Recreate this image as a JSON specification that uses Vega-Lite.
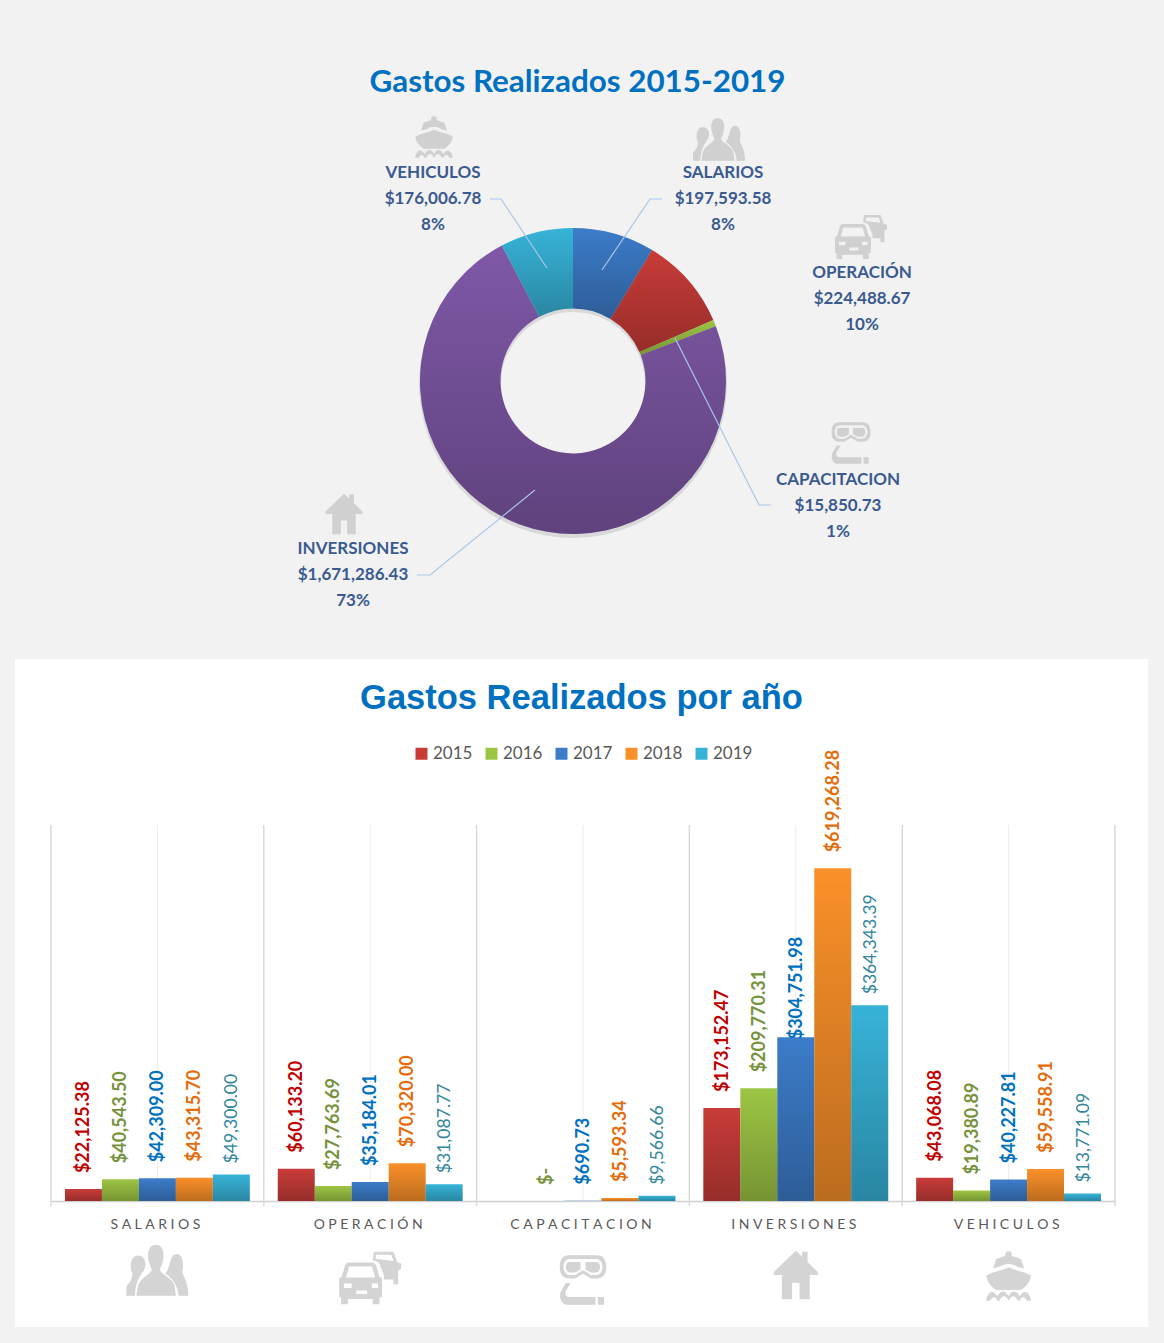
{"$schema":"https://vega.github.io/schema/vega-lite/v6.json","background":"#f2f2f2","padding":{"left":15,"top":0,"right":16,"bottom":16},"spacing":0,"config":{"view":{"stroke":null},"concat":{"spacing":0}},
"resolve":{"scale":{"color":"independent","shape":"independent","fill":"independent"},"legend":{"color":"independent"}},
"datasets":{
"gastos":[
{"categoria":"SALARIOS","orden":1,"valor":197593.58,"etiqueta":"SALARIOS\n$197,593.58\n8%"},
{"categoria":"OPERACIÓN","orden":2,"valor":224488.67,"etiqueta":"OPERACIÓN\n$224,488.67\n10%"},
{"categoria":"CAPACITACION","orden":3,"valor":15850.73,"etiqueta":"CAPACITACION\n$15,850.73\n1%"},
{"categoria":"INVERSIONES","orden":4,"valor":1671286.43,"etiqueta":"INVERSIONES\n$1,671,286.43\n73%"},
{"categoria":"VEHICULOS","orden":5,"valor":176006.78,"etiqueta":"VEHICULOS\n$176,006.78\n8%"}],
"lineas":[
{"categoria":"SALARIOS","punto":1},{"categoria":"SALARIOS","punto":2},{"categoria":"SALARIOS","punto":3},
{"categoria":"CAPACITACION","punto":4},{"categoria":"CAPACITACION","punto":5},{"categoria":"CAPACITACION","punto":6},
{"categoria":"INVERSIONES","punto":7},{"categoria":"INVERSIONES","punto":8},{"categoria":"INVERSIONES","punto":9},
{"categoria":"VEHICULOS","punto":10},{"categoria":"VEHICULOS","punto":11},{"categoria":"VEHICULOS","punto":12}],
"anual":[
{"categoria":"SALARIOS","anio":"2015","valor":22125.38,"texto":"$22,125.38"},
{"categoria":"SALARIOS","anio":"2016","valor":40543.50,"texto":"$40,543.50"},
{"categoria":"SALARIOS","anio":"2017","valor":42309.00,"texto":"$42,309.00"},
{"categoria":"SALARIOS","anio":"2018","valor":43315.70,"texto":"$43,315.70"},
{"categoria":"SALARIOS","anio":"2019","valor":49300.00,"texto":"$49,300.00"},
{"categoria":"OPERACIÓN","anio":"2015","valor":60133.20,"texto":"$60,133.20"},
{"categoria":"OPERACIÓN","anio":"2016","valor":27763.69,"texto":"$27,763.69"},
{"categoria":"OPERACIÓN","anio":"2017","valor":35184.01,"texto":"$35,184.01"},
{"categoria":"OPERACIÓN","anio":"2018","valor":70320.00,"texto":"$70,320.00"},
{"categoria":"OPERACIÓN","anio":"2019","valor":31087.77,"texto":"$31,087.77"},
{"categoria":"CAPACITACION","anio":"2016","valor":0,"texto":"$-"},
{"categoria":"CAPACITACION","anio":"2017","valor":690.73,"texto":"$690.73"},
{"categoria":"CAPACITACION","anio":"2018","valor":5593.34,"texto":"$5,593.34"},
{"categoria":"CAPACITACION","anio":"2019","valor":9566.66,"texto":"$9,566.66"},
{"categoria":"INVERSIONES","anio":"2015","valor":173152.47,"texto":"$173,152.47"},
{"categoria":"INVERSIONES","anio":"2016","valor":209770.31,"texto":"$209,770.31"},
{"categoria":"INVERSIONES","anio":"2017","valor":304751.98,"texto":"$304,751.98"},
{"categoria":"INVERSIONES","anio":"2018","valor":619268.28,"texto":"$619,268.28"},
{"categoria":"INVERSIONES","anio":"2019","valor":364343.39,"texto":"$364,343.39"},
{"categoria":"VEHICULOS","anio":"2015","valor":43068.08,"texto":"$43,068.08"},
{"categoria":"VEHICULOS","anio":"2016","valor":19380.89,"texto":"$19,380.89"},
{"categoria":"VEHICULOS","anio":"2017","valor":40227.81,"texto":"$40,227.81"},
{"categoria":"VEHICULOS","anio":"2018","valor":59558.91,"texto":"$59,558.91"},
{"categoria":"VEHICULOS","anio":"2019","valor":13771.09,"texto":"$13,771.09"}]
},
"vconcat":[
{"width":1133,"height":659,
"title":{"text":"Gastos Realizados 2015-2019","font":"Lato","fontWeight":"bold","fontSize":31.4,"color":"#0070c0","anchor":"middle","frame":"group","offset":-98,"dx":-4},
"resolve":{"scale":{"x":"independent","y":"independent"}},
"layer":[
{"data":{"name":"gastos"},"mark":{"type":"arc","outerRadius":154,"innerRadius":72,"fill":"#000000","opacity":0.1},
"encoding":{"x":{"datum":0,"type":"quantitative","axis":null,"scale":{"domain":[0,1],"range":[558,559]}},"y":{"datum":0,"type":"quantitative","axis":null,"scale":{"domain":[0,1],"range":[384,385]}},
"theta":{"field":"valor","type":"quantitative","stack":true},"order":{"field":"orden"},"detail":{"field":"categoria"}}},
{"data":{"name":"gastos"},"mark":{"type":"arc","outerRadius":153,"innerRadius":72.5},
"encoding":{"x":{"datum":0,"type":"quantitative","axis":null,"scale":{"domain":[0,1],"range":[558,559]}},"y":{"datum":0,"type":"quantitative","axis":null,"scale":{"domain":[0,1],"range":[381,382]}},
"theta":{"field":"valor","type":"quantitative","stack":true},"order":{"field":"orden"},
"color":{"field":"categoria","type":"nominal","legend":null,"sort":null,"scale":{"domain":["SALARIOS","OPERACIÓN","CAPACITACION","INVERSIONES","VEHICULOS"],"range":["#3c7cc9","#c83c38","#9dc544","#7f58a7","#37b3d8"]}}}},
{"data":{"name":"gastos"},"mark":{"type":"arc","outerRadius":153,"innerRadius":72.5,"fill":{"gradient":"linear","x1":0,"y1":0,"x2":0,"y2":1,"stops":[{"offset":0,"color":"rgba(0,0,0,0)"},{"offset":1,"color":"rgba(0,0,0,0.25)"}]}},
"encoding":{"x":{"datum":0,"type":"quantitative","axis":null,"scale":{"domain":[0,1],"range":[558,559]}},"y":{"datum":0,"type":"quantitative","axis":null,"scale":{"domain":[0,1],"range":[381,382]}},
"theta":{"field":"valor","type":"quantitative","stack":true},"order":{"field":"orden"},"detail":{"field":"categoria"}}},
{"data":{"name":"lineas"},"mark":{"type":"line","stroke":"#a9c5e8","strokeWidth":1.2},
"encoding":{"x":{"field":"punto","type":"quantitative","axis":null,"scale":{"domain":[1,2,3,4,5,6,7,8,9,10,11,12],"range":[647,635,587,756,744,660,402,415,520,475,486,532]}},
"y":{"field":"punto","type":"quantitative","axis":null,"scale":{"domain":[1,2,3,4,5,6,7,8,9,10,11,12],"range":[199,199,270,505,505,338,575,575,490,199,199,268]}},
"detail":{"field":"categoria"},"order":{"field":"punto"}}},
{"data":{"name":"gastos"},"mark":{"type":"point","filled":true,"opacity":1},
"encoding":{"x":{"field":"orden","type":"quantitative","axis":null,"scale":{"domain":[1,2,3,4,5],"range":[704,846,836,329,419]}},
"y":{"field":"orden","type":"quantitative","axis":null,"scale":{"domain":[1,2,3,4,5],"range":[140,237,443,514,137]}},
"size":{"value":2704},"color":{"value":"#d0d0d0"},
"shape":{"field":"categoria","type":"nominal","legend":null,"scale":{"domain":["SALARIOS","OPERACIÓN","CAPACITACION","INVERSIONES","VEHICULOS"],
"range":["M-0.05,-0.85 C0.12,-0.85 0.2,-0.7 0.2,-0.5 C0.2,-0.3 0.12,-0.15 0.08,-0.05 C0.1,0.1 0.45,0.2 0.55,0.45 L0.6,0.8 L-0.68,0.8 L-0.62,0.45 C-0.52,0.2 -0.2,0.1 -0.18,-0.05 C-0.22,-0.15 -0.3,-0.3 -0.3,-0.5 C-0.3,-0.7 -0.22,-0.85 -0.05,-0.85 Z M-0.62,-0.5 C-0.45,-0.5 -0.38,-0.35 -0.38,-0.2 L-0.42,-0.05 C-0.5,0.1 -0.72,0.3 -0.72,0.8 L-1,0.8 L-1,0.5 L-0.85,0.3 L-0.8,0.1 C-0.9,-0.05 -0.9,-0.5 -0.62,-0.5 Z M0.62,-0.55 C0.85,-0.55 0.85,-0.15 0.8,0 C0.8,0.15 1,0.3 1,0.8 L0.68,0.8 C0.68,0.45 0.4,0.15 0.25,0.08 C0.42,-0.05 0.38,-0.55 0.62,-0.55 Z",
"M-0.7,-0.5 L0.05,-0.5 C0.12,-0.5 0.18,-0.45 0.2,-0.37 L0.3,-0.03 L0.38,0 L0.38,0.62 L0.3,0.62 L0.3,0.85 L0.08,0.85 L0.08,0.68 L-0.72,0.68 L-0.72,0.85 L-0.94,0.85 L-0.94,0.62 L-1,0.62 L-1,0 L-0.92,-0.03 L-0.82,-0.37 C-0.8,-0.45 -0.76,-0.5 -0.7,-0.5 Z M-0.68,-0.37 L-0.78,-0.02 L0.16,-0.02 L0.06,-0.37 Z M-0.45,0.4 L-0.45,0.52 L-0.1,0.52 L-0.1,0.4 Z M-0.85,0.18 L-0.85,0.32 L-0.6,0.32 L-0.6,0.18 Z M0.05,0.18 L0.05,0.32 L0.25,0.32 L0.25,0.18 Z M0.12,-0.85 L0.75,-0.85 L0.88,-0.5 L1,-0.47 L1,-0.3 L0.9,-0.25 L0.9,0.2 L0.75,0.2 L0.75,0.05 L0.44,0.05 L0.44,-0.1 L0.3,-0.45 C0.28,-0.52 0.18,-0.55 0.08,-0.57 Z M0.2,-0.75 L0.17,-0.62 L0.75,-0.55 L0.68,-0.75 Z",
"M-0.45,-0.8 L0.45,-0.8 C0.66,-0.8 0.75,-0.65 0.75,-0.42 C0.75,-0.2 0.66,-0.05 0.45,-0.05 L0.25,-0.05 L0,-0.2 L-0.25,-0.05 L-0.45,-0.05 C-0.66,-0.05 -0.75,-0.2 -0.75,-0.42 C-0.75,-0.65 -0.66,-0.8 -0.45,-0.8 Z M-0.42,-0.68 C-0.58,-0.68 -0.63,-0.52 -0.63,-0.42 C-0.63,-0.3 -0.55,-0.16 -0.42,-0.16 L-0.25,-0.16 L0,-0.32 L0.25,-0.16 L0.42,-0.16 C0.55,-0.16 0.63,-0.3 0.63,-0.42 C0.63,-0.52 0.58,-0.68 0.42,-0.68 Z M-0.45,-0.58 L-0.08,-0.58 L-0.08,-0.34 L-0.25,-0.24 L-0.42,-0.24 C-0.52,-0.24 -0.55,-0.35 -0.55,-0.42 C-0.55,-0.5 -0.52,-0.58 -0.45,-0.58 Z M0.08,-0.58 L0.45,-0.58 C0.52,-0.58 0.55,-0.5 0.55,-0.42 C0.55,-0.35 0.52,-0.24 0.42,-0.24 L0.25,-0.24 L0.08,-0.34 Z M-0.55,0.1 L-0.4,0.1 L-0.55,0.35 C-0.6,0.45 -0.55,0.55 -0.45,0.55 L0.4,0.55 L0.4,0.8 L-0.5,0.8 C-0.72,0.8 -0.78,0.55 -0.72,0.38 Z M0.48,0.55 L0.68,0.55 L0.68,0.8 L0.48,0.8 Z",
"M0,-0.78 L0.2,-0.6 L0.2,-0.75 L0.38,-0.75 L0.38,-0.42 L0.71,-0.1 L0.71,0 L0.45,0 L0.45,0.78 L0.12,0.78 L0.12,0.25 L-0.12,0.25 L-0.12,0.78 L-0.45,0.78 L-0.45,0 L-0.71,0 L-0.71,-0.1 Z",
"M0,-0.8 C0.1,-0.8 0.12,-0.72 0.1,-0.65 L0.4,-0.55 L0.5,-0.25 L0.28,-0.3 C0.1,-0.42 -0.1,-0.42 -0.28,-0.3 L-0.5,-0.25 L-0.4,-0.55 L-0.1,-0.65 C-0.12,-0.72 -0.1,-0.8 0,-0.8 Z M0,-0.28 C0.15,-0.22 0.35,-0.15 0.55,-0.1 L0.72,-0.02 C0.7,0.2 0.55,0.35 0.4,0.45 L-0.4,0.45 C-0.55,0.35 -0.7,0.2 -0.72,-0.02 L-0.55,-0.1 C-0.35,-0.15 -0.15,-0.22 0,-0.28 Z M-0.73,0.8 C-0.65,0.45 -0.5,0.45 -0.36,0.65 C-0.25,0.45 -0.1,0.45 0,0.65 C0.1,0.45 0.25,0.45 0.36,0.65 C0.5,0.45 0.65,0.45 0.73,0.8 L0.6,0.8 C0.5,0.65 0.42,0.65 0.36,0.8 L0.3,0.8 C0.2,0.6 0.1,0.6 0,0.8 C-0.1,0.6 -0.2,0.6 -0.3,0.8 L-0.36,0.8 C-0.42,0.65 -0.5,0.65 -0.6,0.8 Z"]}}}},
{"data":{"name":"gastos"},"mark":{"type":"text","font":"Lato","fontWeight":"bold","fontSize":17,"color":"#3a5a8f","lineBreak":"\n","lineHeight":26,"align":"center","baseline":"middle"},
"encoding":{"x":{"field":"orden","type":"quantitative","axis":null,"scale":{"domain":[1,2,3,4,5],"range":[708,847,823,338,418]}},
"y":{"field":"orden","type":"quantitative","axis":null,"scale":{"domain":[1,2,3,4,5],"range":[173,273,480,549,173]}},
"text":{"field":"etiqueta"}}}
]},
{"width":1133,"height":668,"view":{"fill":"white","stroke":null},
"title":{"text":"Gastos Realizados por año","font":"Liberation Sans","fontWeight":"bold","fontSize":34.5,"color":"#0070c0","anchor":"middle","frame":"group","offset":-57},
"resolve":{"scale":{"y":"independent"}},
"encoding":{
"x":{"field":"categoria","type":"nominal","sort":null,"title":null,"scale":{"domain":["SALARIOS","OPERACIÓN","CAPACITACION","INVERSIONES","VEHICULOS"],"range":[36,1100],"paddingInner":0,"paddingOuter":0},
"axis":{"orient":"bottom","offset":-126,"ticks":false,"labelAngle":0,"labelFont":"Lato","labelFontSize":14,"labelColor":"#595959","labelPadding":16,"labelOffset":-2,"domainColor":"#d0d0d0","domainWidth":1.5,"grid":false,"labelExpr":"join(split(datum.label,''),'\u2005')"}},
"y":{"type":"quantitative","axis":null,"scale":{"domain":[0,700000],"range":[542,166],"nice":false,"zero":false}}},
"layer":[
{"data":{"name":"gastos"},"mark":{"type":"rule","color":"#ececec","strokeWidth":1},"encoding":{"y":{"datum":0,"type":"quantitative"},"y2":{"datum":700000}}},
{"data":{"name":"gastos"},"mark":{"type":"rule","color":"#d9d9d9","strokeWidth":1.5},"encoding":{"x":{"field":"categoria","type":"nominal","bandPosition":0},"y":{"datum":-10000,"type":"quantitative"},"y2":{"datum":700000}}},
{"data":{"name":"gastos"},"transform":[{"filter":"datum.orden==5"}],"mark":{"type":"rule","color":"#d9d9d9","strokeWidth":1.5},"encoding":{"x":{"field":"categoria","type":"nominal","bandPosition":1},"y":{"datum":-10000,"type":"quantitative"},"y2":{"datum":700000}}},
{"data":{"name":"anual"},"mark":{"type":"bar"},
"encoding":{"y":{"field":"valor","type":"quantitative"},"xOffset":{"field":"anio","type":"nominal","scale":{"domain":["2015","2016","2017","2018","2019"],"paddingInner":0,"paddingOuter":0.378}},
"color":{"field":"anio","type":"nominal","scale":{"domain":["2015","2016","2017","2018","2019"],"range":["#c83c38","#9dc544","#3c7cc9","#fa9029","#37b3d8"]},
"legend":{"orient":"none","legendX":398,"legendY":86,"direction":"horizontal","columns":5,"title":null,"symbolType":"square","symbolSize":144,"symbolStrokeWidth":0,"labelFont":"Lato","labelFontSize":17,"labelColor":"#595959","labelOffset":3,"columnPadding":10,"symbolOpacity":1}}}},
{"data":{"name":"anual"},"mark":{"type":"bar","fill":{"gradient":"linear","x1":0,"y1":0,"x2":0,"y2":1,"stops":[{"offset":0,"color":"rgba(0,0,0,0)"},{"offset":1,"color":"rgba(0,0,0,0.25)"}]}},
"encoding":{"y":{"field":"valor","type":"quantitative"},"xOffset":{"field":"anio","type":"nominal","scale":{"domain":["2015","2016","2017","2018","2019"],"paddingInner":0,"paddingOuter":0.378}}}},
{"data":{"name":"anual"},"transform":[{"filter":"datum.anio!='2019' && datum.texto!='$304,751.98'"}],"mark":{"type":"text","font":"Lato","fontWeight":"bold","fontSize":18,"angle":270,"align":"left","baseline":"middle","dx":16,"dy":1},
"encoding":{"y":{"field":"valor","type":"quantitative"},"xOffset":{"field":"anio","type":"nominal","scale":{"domain":["2015","2016","2017","2018","2019"],"paddingInner":0,"paddingOuter":0.378}},"text":{"field":"texto"},
"fill":{"field":"anio","type":"nominal","legend":null,"scale":{"domain":["2015","2016","2017","2018","2019"],"range":["#c00000","#76923c","#0070c0","#e46c0a","#31859c"]}}}},
{"data":{"name":"anual"},"transform":[{"filter":"datum.texto=='$304,751.98'"}],"mark":{"type":"text","font":"Lato","fontWeight":"bold","fontSize":18,"angle":270,"align":"left","baseline":"middle","dx":-2,"dy":1},
"encoding":{"y":{"field":"valor","type":"quantitative"},"xOffset":{"field":"anio","type":"nominal","scale":{"domain":["2015","2016","2017","2018","2019"],"paddingInner":0,"paddingOuter":0.378}},"text":{"field":"texto"},
"fill":{"field":"anio","type":"nominal","legend":null,"scale":{"domain":["2015","2016","2017","2018","2019"],"range":["#c00000","#76923c","#0070c0","#e46c0a","#31859c"]}}}},
{"data":{"name":"anual"},"transform":[{"filter":"datum.anio=='2019'"}],"mark":{"type":"text","font":"Lato","fontWeight":"normal","fontSize":17.6,"angle":270,"align":"left","baseline":"middle","dx":11,"dy":1},
"encoding":{"y":{"field":"valor","type":"quantitative"},"xOffset":{"field":"anio","type":"nominal","scale":{"domain":["2015","2016","2017","2018","2019"],"paddingInner":0,"paddingOuter":0.378}},"text":{"field":"texto"},
"fill":{"field":"anio","type":"nominal","legend":null,"scale":{"domain":["2015","2016","2017","2018","2019"],"range":["#c00000","#76923c","#0070c0","#e46c0a","#31859c"]}}}},
{"data":{"name":"gastos"},"mark":{"type":"point","filled":true,"opacity":1},
"encoding":{"y":{"field":"orden","type":"quantitative","axis":null,"scale":{"domain":[1,2,3,4,5],"range":[612,619,621,616,617],"nice":false,"zero":false}},"size":{"value":3844},"color":{"value":"#d4d4d4"},
"shape":{"field":"categoria","type":"nominal","legend":null,"scale":{"domain":["SALARIOS","OPERACIÓN","CAPACITACION","INVERSIONES","VEHICULOS"],
"range":["M-0.05,-0.85 C0.12,-0.85 0.2,-0.7 0.2,-0.5 C0.2,-0.3 0.12,-0.15 0.08,-0.05 C0.1,0.1 0.45,0.2 0.55,0.45 L0.6,0.8 L-0.68,0.8 L-0.62,0.45 C-0.52,0.2 -0.2,0.1 -0.18,-0.05 C-0.22,-0.15 -0.3,-0.3 -0.3,-0.5 C-0.3,-0.7 -0.22,-0.85 -0.05,-0.85 Z M-0.62,-0.5 C-0.45,-0.5 -0.38,-0.35 -0.38,-0.2 L-0.42,-0.05 C-0.5,0.1 -0.72,0.3 -0.72,0.8 L-1,0.8 L-1,0.5 L-0.85,0.3 L-0.8,0.1 C-0.9,-0.05 -0.9,-0.5 -0.62,-0.5 Z M0.62,-0.55 C0.85,-0.55 0.85,-0.15 0.8,0 C0.8,0.15 1,0.3 1,0.8 L0.68,0.8 C0.68,0.45 0.4,0.15 0.25,0.08 C0.42,-0.05 0.38,-0.55 0.62,-0.55 Z",
"M-0.7,-0.5 L0.05,-0.5 C0.12,-0.5 0.18,-0.45 0.2,-0.37 L0.3,-0.03 L0.38,0 L0.38,0.62 L0.3,0.62 L0.3,0.85 L0.08,0.85 L0.08,0.68 L-0.72,0.68 L-0.72,0.85 L-0.94,0.85 L-0.94,0.62 L-1,0.62 L-1,0 L-0.92,-0.03 L-0.82,-0.37 C-0.8,-0.45 -0.76,-0.5 -0.7,-0.5 Z M-0.68,-0.37 L-0.78,-0.02 L0.16,-0.02 L0.06,-0.37 Z M-0.45,0.4 L-0.45,0.52 L-0.1,0.52 L-0.1,0.4 Z M-0.85,0.18 L-0.85,0.32 L-0.6,0.32 L-0.6,0.18 Z M0.05,0.18 L0.05,0.32 L0.25,0.32 L0.25,0.18 Z M0.12,-0.85 L0.75,-0.85 L0.88,-0.5 L1,-0.47 L1,-0.3 L0.9,-0.25 L0.9,0.2 L0.75,0.2 L0.75,0.05 L0.44,0.05 L0.44,-0.1 L0.3,-0.45 C0.28,-0.52 0.18,-0.55 0.08,-0.57 Z M0.2,-0.75 L0.17,-0.62 L0.75,-0.55 L0.68,-0.75 Z",
"M-0.45,-0.8 L0.45,-0.8 C0.66,-0.8 0.75,-0.65 0.75,-0.42 C0.75,-0.2 0.66,-0.05 0.45,-0.05 L0.25,-0.05 L0,-0.2 L-0.25,-0.05 L-0.45,-0.05 C-0.66,-0.05 -0.75,-0.2 -0.75,-0.42 C-0.75,-0.65 -0.66,-0.8 -0.45,-0.8 Z M-0.42,-0.68 C-0.58,-0.68 -0.63,-0.52 -0.63,-0.42 C-0.63,-0.3 -0.55,-0.16 -0.42,-0.16 L-0.25,-0.16 L0,-0.32 L0.25,-0.16 L0.42,-0.16 C0.55,-0.16 0.63,-0.3 0.63,-0.42 C0.63,-0.52 0.58,-0.68 0.42,-0.68 Z M-0.45,-0.58 L-0.08,-0.58 L-0.08,-0.34 L-0.25,-0.24 L-0.42,-0.24 C-0.52,-0.24 -0.55,-0.35 -0.55,-0.42 C-0.55,-0.5 -0.52,-0.58 -0.45,-0.58 Z M0.08,-0.58 L0.45,-0.58 C0.52,-0.58 0.55,-0.5 0.55,-0.42 C0.55,-0.35 0.52,-0.24 0.42,-0.24 L0.25,-0.24 L0.08,-0.34 Z M-0.55,0.1 L-0.4,0.1 L-0.55,0.35 C-0.6,0.45 -0.55,0.55 -0.45,0.55 L0.4,0.55 L0.4,0.8 L-0.5,0.8 C-0.72,0.8 -0.78,0.55 -0.72,0.38 Z M0.48,0.55 L0.68,0.55 L0.68,0.8 L0.48,0.8 Z",
"M0,-0.78 L0.2,-0.6 L0.2,-0.75 L0.38,-0.75 L0.38,-0.42 L0.71,-0.1 L0.71,0 L0.45,0 L0.45,0.78 L0.12,0.78 L0.12,0.25 L-0.12,0.25 L-0.12,0.78 L-0.45,0.78 L-0.45,0 L-0.71,0 L-0.71,-0.1 Z",
"M0,-0.8 C0.1,-0.8 0.12,-0.72 0.1,-0.65 L0.4,-0.55 L0.5,-0.25 L0.28,-0.3 C0.1,-0.42 -0.1,-0.42 -0.28,-0.3 L-0.5,-0.25 L-0.4,-0.55 L-0.1,-0.65 C-0.12,-0.72 -0.1,-0.8 0,-0.8 Z M0,-0.28 C0.15,-0.22 0.35,-0.15 0.55,-0.1 L0.72,-0.02 C0.7,0.2 0.55,0.35 0.4,0.45 L-0.4,0.45 C-0.55,0.35 -0.7,0.2 -0.72,-0.02 L-0.55,-0.1 C-0.35,-0.15 -0.15,-0.22 0,-0.28 Z M-0.73,0.8 C-0.65,0.45 -0.5,0.45 -0.36,0.65 C-0.25,0.45 -0.1,0.45 0,0.65 C0.1,0.45 0.25,0.45 0.36,0.65 C0.5,0.45 0.65,0.45 0.73,0.8 L0.6,0.8 C0.5,0.65 0.42,0.65 0.36,0.8 L0.3,0.8 C0.2,0.6 0.1,0.6 0,0.8 C-0.1,0.6 -0.2,0.6 -0.3,0.8 L-0.36,0.8 C-0.42,0.65 -0.5,0.65 -0.6,0.8 Z"]}}}}
]}
]}
